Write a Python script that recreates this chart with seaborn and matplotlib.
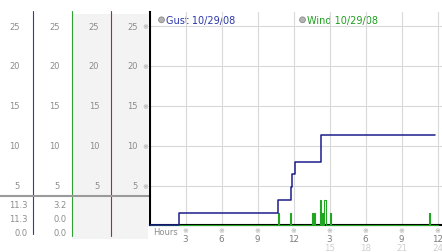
import matplotlib
matplotlib.use("Agg")
import matplotlib.pyplot as plt
import seaborn as sns
import pandas as pd
from matplotlib import transforms
from matplotlib.patches import Rectangle, Circle
from matplotlib.lines import Line2D

# ---------------- data ----------------
gust_hours = [0, 2.46, 10.73, 11.77, 11.88, 12.10, 14.27, 23.79]
gust_mph = [0, 1.6, 3.2, 4.8, 6.4, 8.0, 11.3, 11.3]

wind_hours = [0, 10.68, 10.78, 11.68, 11.78, 13.52, 13.62, 13.68, 13.78,
              14.22, 14.32, 14.38, 14.48, 14.58, 14.68, 15.05, 15.15,
              23.27, 23.37, 24.0]
wind_mph = [0, 1.6, 0, 1.6, 0, 1.6, 0, 1.6, 0,
            3.2, 0, 1.6, 0, 3.2, 0, 1.6, 0,
            1.6, 0, 0]

y_ticks = [25, 20, 15, 10, 5]
hour_ticks = [3, 6, 9, 12, 15, 18, 21, 24]
hour_labels_12 = ["3", "6", "9", "12", "3", "6", "9", "12"]
hour_labels_24 = ["", "", "", "", "15", "18", "21", "24"]
gust_stats = ["11.3", "11.3", "0.0"]
wind_stats = ["3.2", "0.0", "0.0"]
series_labels = ["Gust 10/29/08", "Wind 10/29/08"]

# ---------------- style ----------------
sns.set_style("white")
plt.rcParams['font.family'] = ['DejaVu Sans']

GUST_LINE = "#1c1c8a"
GUST_TEXT = "#2a36a8"
WIND_LINE = "#22a522"
WIND_TEXT = "#1f9f1f"
LBL = "#8c8c8c"
LBL2 = "#cfcfcf"
GRID = "#d9d9d9"

W, H = 442, 253
fig = plt.figure(figsize=(W / 100, H / 100), dpi=100)
fig.patch.set_facecolor("white")

bg = fig.add_axes([0, 0, 1, 1], zorder=0)
bg.set_xlim(0, W)
bg.set_ylim(H, 0)
bg.axis("off")

x0, y_top, y_bot = 149.5, 13.0, 226.4
px_per_unit = 7.975
px_per_hour = 12.0
ax = fig.add_axes([x0 / W, (H - y_bot) / H, (W - x0) / W, (y_bot - y_top) / H], zorder=1)
ax.patch.set_visible(False)
ax.set_ylim(0, (y_bot - y_top) / px_per_unit)
ax.set_xlim(0, (W - x0) / px_per_hour)

# grid
ax.set_xticks(hour_ticks)
ax.set_yticks(y_ticks)
ax.grid(True, color=GRID, linewidth=0.8)
ax.tick_params(length=0, labelbottom=False, labelleft=False)
for s in ["top", "right"]:
    ax.spines[s].set_visible(False)
for s in ["left", "bottom"]:
    ax.spines[s].set_color("black")
    ax.spines[s].set_linewidth(1.5)

# data lines
gust_df = pd.DataFrame({"hour": gust_hours, "mph": gust_mph})
wind_df = pd.DataFrame({"hour": wind_hours, "mph": wind_mph})
sns.lineplot(data=wind_df, x="hour", y="mph", ax=ax, color=WIND_LINE, linewidth=0.8,
             drawstyle="steps-post", estimator=None, sort=False, clip_on=False, zorder=3)
sns.lineplot(data=gust_df, x="hour", y="mph", ax=ax, color=GUST_LINE, linewidth=1.1,
             drawstyle="steps-post", estimator=None, sort=False, clip_on=False, zorder=4)
ax.set_xlabel("")
ax.set_ylabel("")

# ---------------- left panel ----------------
bg.add_patch(Rectangle((72.3, 15), 75.5, 225, facecolor="#f3f3f3", edgecolor="none"))
bg.add_line(Line2D([33.3, 33.3], [12, 235], color="#2244a0", linewidth=0.8))
bg.add_line(Line2D([72.3, 72.3], [12, 237], color="#33a033", linewidth=0.8))
bg.add_line(Line2D([111.2, 111.2], [12, 237], color="#b02828", linewidth=0.8))
bg.add_line(Line2D([0, x0], [197, 197], color="#9a9a9a", linewidth=1.5))

ytr = transforms.blended_transform_factory(bg.transData, ax.transData)
for col_right in [19.8, 59.5, 99.2, 137.8]:
    for v in y_ticks:
        bg.text(col_right, v, str(v), transform=ytr, ha="right", va="center",
                fontsize=6, color=LBL)
for v in y_ticks:
    bg.text(145.5, v, "\u203b", transform=ytr, ha="center", va="center",
            fontsize=5, color="#a0a0a0")

for i, (gs, ws) in enumerate(zip(gust_stats, wind_stats)):
    yb = [208, 222, 236][i]
    bg.text(27.5, yb, gs, ha="right", va="baseline", fontsize=6, color=LBL)
    bg.text(66.5, yb, ws, ha="right", va="baseline", fontsize=6, color=LBL)

# ---------------- x labels ----------------
xtr = transforms.blended_transform_factory(ax.transData, bg.transData)
bg.text(153.5, 235.5, "Hours", ha="left", va="baseline", fontsize=6, color=LBL)
for h, l12, l24 in zip(hour_ticks, hour_labels_12, hour_labels_24):
    bg.text(h, 231.5, "\u203b", transform=xtr, ha="center", va="center",
            fontsize=5, color="#a0a0a0", clip_on=False)
    bg.text(h, 242.5, l12, transform=xtr, ha="center", va="baseline",
            fontsize=6.3, color="#7c7c7c", clip_on=False)
    if l24:
        bg.text(h, 251, l24, transform=xtr, ha="center", va="baseline",
                fontsize=6.3, color=LBL2, clip_on=False)

# ---------------- legend ----------------
for (cx, label, tc) in [(161.5, series_labels[0], GUST_TEXT), (302.5, series_labels[1], WIND_TEXT)]:
    bg.add_patch(Circle((cx, 20.8), 2.9, facecolor="#b4b4b4", edgecolor="#8a8a8a", linewidth=0.6))
    bg.text(cx + 4.3, 24.3, label, ha="left", va="baseline", fontsize=7, color=tc)

fig.savefig("out.png", dpi=100)
